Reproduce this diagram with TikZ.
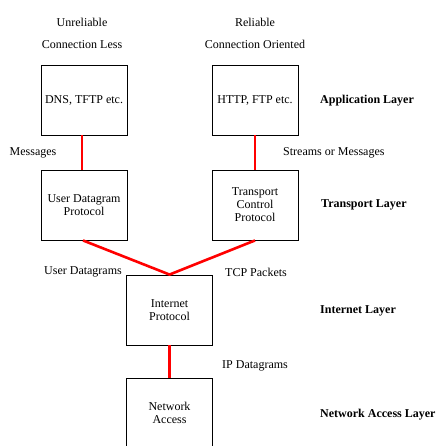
\documentclass[tikz,border=0pt]{standalone}
\usepackage{fontspec}
\setmainfont{Liberation Serif}
\begin{document}
\begin{tikzpicture}[x=1pt, y=-1pt, font=\fontsize{12}{13}\selectfont,
  box/.style={draw, line width=0.9pt, minimum width=86pt, minimum height=70pt, align=center, inner sep=1pt},
  link/.style={red, line width=2.6pt},
  lbl/.style={inner sep=0pt},
  layer/.style={anchor=west, inner sep=0pt, font=\fontsize{12}{13}\selectfont\bfseries}]
  \useasboundingbox (0,0) rectangle (437,446);
  \clip (0,0) rectangle (437,446);
  % headings
  \node[lbl, align=center, font=\fontsize{12}{22}\selectfont] (unrel) at (82,33) {Unreliable\\Connection Less};
  \node[lbl, align=center, font=\fontsize{12}{22}\selectfont] (rel) at (255,33) {Reliable\\Connection Oriented};
  % protocol boxes
  \node[box] (dns) at (84,100) {DNS, TFTP etc.};
  \node[box] (http) at (255,100) {HTTP, FTP etc.};
  \node[box] (udp) at (84,205) {User Datagram\\Protocol};
  \node[box] (tcp) at (255,205) {Transport\\Control\\Protocol};
  \node[box] (ip) at (169.5,310) {Internet\\Protocol};
  \node[box] (na) at (169.5,413) {Network\\Access};
  \coordinate (join) at (ip.north);
  % red links
  \draw[link] (dns.south -| 82,0) -- (udp.north -| 82,0);
  \draw[link] (http) -- (tcp);
  \draw[link, line join=round] (udp.south -| 83,0) -- (join) -- (tcp.south);
  \draw[link] (ip) -- (na);
  % data units
  \node[lbl] (msg) at (33,153) {Messages};
  \node[lbl, anchor=west] (stream) at (283,153) {Streams or Messages};
  \node[lbl] (udg) at (83,272) {User Datagrams};
  \node[lbl, anchor=west] (tcpp) at (225,272) {TCP Packets};
  \node[lbl, anchor=west] (ipdg) at (222,366) {IP Datagrams};
  % layers
  \node[layer] (app) at (320,101) {Application Layer};
  \node[layer] (trans) at (321,205) {Transport Layer};
  \node[layer] (inet) at (320,311) {Internet Layer};
  \node[layer] (netacc) at (320,415) {Network Access Layer};
\end{tikzpicture}
\end{document}
